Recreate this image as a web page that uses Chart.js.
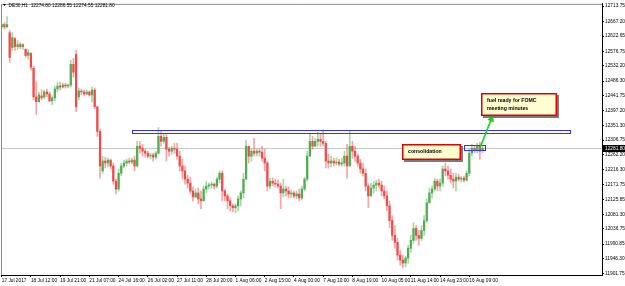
<!DOCTYPE html>
<html lang="en">
<head>
<meta charset="UTF-8">
<title>DE30,H1</title>
<script src="https://cdn.jsdelivr.net/npm/chart.js"></script>
<style>
    html, body { margin: 0; padding: 0; background: #fff; }
    canvas { display: block; }
</style>
</head>
<body>
<canvas id="chart" width="625" height="286"></canvas>
<script>
    // each entry below covers three H1 candles
    const hoursPerBar = 3;

    const opens = [
        12651, 12658, 12651, 12633, 12588, 12615, 12591, 12597, 12591, 12582,
        12564, 12570, 12525, 12438, 12423, 12441, 12438, 12453, 12447, 12426,
        12435, 12462, 12471, 12468, 12474, 12471, 12474, 12537, 12567, 12438,
        12456, 12453, 12447, 12453, 12444, 12459, 12408, 12333, 12213, 12243,
        12237, 12246, 12228, 12182, 12158, 12206, 12228, 12237, 12243, 12240,
        12246, 12228, 12288, 12282, 12273, 12267, 12258, 12261, 12255, 12267,
        12318, 12303, 12315, 12279, 12273, 12282, 12279, 12258, 12228, 12213,
        12188, 12176, 12152, 12134, 12146, 12128, 12122, 12158, 12167, 12170,
        12173, 12167, 12188, 12206, 12152, 12137, 12122, 12107, 12101, 12107,
        12128, 12146, 12188, 12288, 12258, 12273, 12267, 12273, 12270, 12252,
        12237, 12167, 12182, 12176, 12173, 12167, 12146, 12158, 12152, 12143,
        12146, 12137, 12143, 12131, 12158, 12188, 12258, 12303, 12288, 12303,
        12309, 12303, 12297, 12243, 12237, 12243, 12237, 12240, 12234, 12237,
        12258, 12228, 12288, 12273, 12258, 12237, 12219, 12206, 12167, 12137,
        12161, 12170, 12176, 12170, 12152, 12137, 12107, 12062, 12017, 11996,
        11957, 11942, 11933, 11948, 11978, 12002, 12038, 12017, 12008, 12032,
        12062, 12116, 12146, 12158, 12182, 12167, 12176, 12219, 12213, 12200,
        12188, 12182, 12194, 12188, 12191, 12185, 12206, 12267, 12282, 12276,
        12288, 12275
    ];
    const highs = [
        12661, 12664, 12682, 12640, 12633, 12618, 12609, 12603, 12600, 12585,
        12582, 12573, 12531, 12483, 12453, 12459, 12459, 12462, 12453, 12441,
        12471, 12483, 12483, 12480, 12480, 12477, 12549, 12555, 12579, 12465,
        12462, 12459, 12459, 12456, 12468, 12465, 12408, 12339, 12258, 12255,
        12252, 12249, 12237, 12188, 12219, 12237, 12246, 12249, 12252, 12252,
        12258, 12303, 12303, 12294, 12279, 12273, 12267, 12267, 12273, 12345,
        12333, 12327, 12324, 12285, 12288, 12297, 12297, 12273, 12249, 12228,
        12200, 12194, 12164, 12158, 12161, 12152, 12167, 12182, 12176, 12179,
        12176, 12194, 12213, 12213, 12158, 12143, 12131, 12113, 12113, 12137,
        12152, 12206, 12306, 12288, 12279, 12312, 12279, 12279, 12288, 12279,
        12243, 12191, 12191, 12188, 12185, 12176, 12188, 12167, 12164, 12155,
        12152, 12152, 12158, 12167, 12194, 12273, 12327, 12318, 12312, 12330,
        12324, 12339, 12303, 12264, 12258, 12252, 12252, 12249, 12252, 12273,
        12294, 12336, 12303, 12288, 12264, 12249, 12237, 12219, 12173, 12176,
        12182, 12185, 12188, 12182, 12167, 12152, 12122, 12077, 12047, 12008,
        11972, 11957, 11954, 11987, 12017, 12056, 12047, 12032, 12047, 12077,
        12128, 12161, 12167, 12191, 12188, 12188, 12228, 12237, 12228, 12219,
        12206, 12206, 12203, 12197, 12197, 12213, 12279, 12294, 12291, 12297,
        12300, 12290
    ];
    const lows = [
        12648, 12645, 12648, 12543, 12579, 12579, 12582, 12585, 12582, 12558,
        12552, 12519, 12429, 12384, 12423, 12429, 12432, 12438, 12423, 12414,
        12426, 12453, 12459, 12465, 12465, 12465, 12468, 12498, 12393, 12429,
        12444, 12441, 12444, 12441, 12423, 12402, 12318, 12191, 12206, 12222,
        12225, 12219, 12173, 12143, 12152, 12198, 12222, 12228, 12234, 12234,
        12213, 12225, 12267, 12258, 12255, 12252, 12249, 12243, 12249, 12264,
        12288, 12297, 12243, 12258, 12264, 12267, 12249, 12213, 12188, 12173,
        12161, 12143, 12122, 12131, 12113, 12098, 12122, 12146, 12158, 12161,
        12158, 12161, 12176, 12122, 12122, 12098, 12092, 12089, 12086, 12092,
        12107, 12131, 12188, 12237, 12243, 12258, 12258, 12258, 12243, 12213,
        12152, 12158, 12167, 12164, 12161, 12098, 12134, 12137, 12131, 12131,
        12131, 12128, 12122, 12125, 12152, 12182, 12258, 12279, 12288, 12288,
        12288, 12288, 12222, 12222, 12225, 12228, 12231, 12228, 12228, 12228,
        12191, 12228, 12252, 12243, 12228, 12206, 12198, 12152, 12101, 12137,
        12146, 12152, 12161, 12137, 12128, 12092, 12041, 12002, 11978, 11942,
        11927, 11918, 11921, 11933, 11966, 11993, 12002, 11987, 12002, 12017,
        12056, 12116, 12131, 12152, 12152, 12152, 12167, 12198, 12188, 12176,
        12161, 12152, 12182, 12179, 12179, 12182, 12198, 12258, 12267, 12267,
        12249, 12268
    ];
    const closes = [
        12658, 12651, 12658, 12558, 12618, 12591, 12597, 12591, 12597, 12564,
        12573, 12528, 12438, 12423, 12444, 12435, 12453, 12447, 12426, 12435,
        12462, 12471, 12468, 12474, 12471, 12474, 12537, 12513, 12408, 12456,
        12453, 12447, 12453, 12444, 12459, 12408, 12333, 12228, 12243, 12237,
        12246, 12228, 12182, 12158, 12206, 12228, 12237, 12243, 12240, 12246,
        12228, 12288, 12282, 12273, 12267, 12258, 12261, 12255, 12267, 12318,
        12303, 12315, 12279, 12273, 12282, 12279, 12258, 12228, 12213, 12188,
        12176, 12152, 12134, 12146, 12128, 12122, 12158, 12167, 12170, 12173,
        12167, 12188, 12206, 12152, 12137, 12122, 12107, 12101, 12107, 12128,
        12146, 12188, 12288, 12258, 12273, 12267, 12273, 12270, 12252, 12237,
        12167, 12182, 12176, 12173, 12167, 12146, 12158, 12152, 12143, 12146,
        12137, 12143, 12131, 12158, 12188, 12258, 12303, 12288, 12303, 12309,
        12303, 12297, 12243, 12237, 12243, 12237, 12240, 12234, 12237, 12258,
        12228, 12288, 12273, 12258, 12237, 12219, 12206, 12167, 12137, 12161,
        12170, 12176, 12170, 12152, 12137, 12107, 12062, 12017, 11996, 11957,
        11942, 11933, 11948, 11978, 12002, 12038, 12017, 12008, 12032, 12062,
        12116, 12146, 12158, 12182, 12167, 12176, 12219, 12213, 12200, 12188,
        12182, 12194, 12188, 12191, 12185, 12206, 12267, 12282, 12276, 12288,
        12273, 12281.8
    ];

    // time axis: hours since the first candle and their labels
    const timeTicks = [0, 33, 66, 99, 132, 165, 198, 231, 264, 297, 330, 363, 396, 429, 462, 495, 528];
    const timeLabels = [
        '17 Jul 2017', '18 Jul 12:00', '19 Jul 21:00', '21 Jul 07:00', '24 Jul 16:00', '26 Jul 02:00',
        '27 Jul 11:00', '28 Jul 20:00', '1 Aug 06:00', '2 Aug 15:00', '4 Aug 00:00', '7 Aug 10:00',
        '8 Aug 19:00', '10 Aug 05:00', '11 Aug 14:00', '14 Aug 23:00', '16 Aug 09:00'
    ];
    const priceTicks = [
        12713.75, 12667.20, 12622.65, 12576.75, 12532.20, 12486.30, 12441.75, 12397.20, 12351.30, 12306.75,
        12262.20, 12216.30, 12171.75, 12125.85, 12081.30, 12036.75, 11990.85, 11946.30, 11901.75
    ];
    const lastPrice = 12281.80;
    const header = 'DE30,H1  12274.80 12286.55 12274.55 12281.80';

    // drawn objects on the chart (in hours / price)
    const resistance = { from: 147, to: 642, top: 12338, bottom: 12330 };
    const rangeBox = { from: 522, to: 546, top: 12291, bottom: 12276 };
    const arrow = { x1: 540, y1: 12283, x2: 555, y2: 12384 };
    const notes = [
        { lines: ['consolidation'], from: 452, to: 519, top: 12295, bottom: 12245 },
        { lines: ['fuel ready for FOMC', 'meeting minutes'], from: 541, to: 627, top: 12450, bottom: 12380 }
    ];

    const UP = '#4fae4f', DOWN = '#f24a4a';
    const UP_WICK = 'rgba(79,174,79,0.5)', DOWN_WICK = 'rgba(242,74,74,0.5)';
    const small = { family: 'Liberation Sans', size: 4.8 };

    const isUp = closes.map((c, i) => c >= opens[i]);
    const wicks = closes.map((c, i) => ({ x: i * hoursPerBar, y: [lows[i], highs[i]] }));
    const bodies = closes.map((c, i) => ({ x: i * hoursPerBar, y: [opens[i], c] }));

    const overlay = {
        id: 'overlay',
        beforeDatasetsDraw(chart) {
            const { ctx, chartArea: a, scales: { y } } = chart;
            const py = Math.round(y.getPixelForValue(lastPrice)) + 0.5;
            ctx.save();
            ctx.strokeStyle = '#c8c8c8';
            ctx.lineWidth = 1;
            ctx.beginPath();
            ctx.moveTo(a.left, py);
            ctx.lineTo(a.right, py);
            ctx.stroke();
            ctx.restore();
        },
        afterDatasetsDraw(chart) {
            const { ctx, scales: { x, y } } = chart;
            ctx.save();

            // resistance zone + consolidation range
            ctx.strokeStyle = '#3232ff';
            ctx.lineWidth = 1;
            [resistance, rangeBox].forEach(r => {
                const x1 = x.getPixelForValue(r.from), x2 = x.getPixelForValue(r.to);
                const y1 = y.getPixelForValue(r.top), y2 = y.getPixelForValue(r.bottom);
                ctx.strokeRect(Math.round(x1) + 0.5, Math.round(y1) + 0.5, Math.round(x2 - x1), Math.round(y2 - y1));
            });

            // green arrow
            const ax1 = x.getPixelForValue(arrow.x1), ay1 = y.getPixelForValue(arrow.y1);
            const ax2 = x.getPixelForValue(arrow.x2), ay2 = y.getPixelForValue(arrow.y2);
            const ang = Math.atan2(ay2 - ay1, ax2 - ax1);
            ctx.strokeStyle = '#1ed21e';
            ctx.fillStyle = '#1ed21e';
            ctx.lineWidth = 1.6;
            ctx.beginPath();
            ctx.moveTo(ax1, ay1);
            ctx.lineTo(ax2 - 4 * Math.cos(ang), ay2 - 4 * Math.sin(ang));
            ctx.stroke();
            ctx.beginPath();
            ctx.moveTo(ax2, ay2);
            ctx.lineTo(ax2 - 7 * Math.cos(ang) + 3.5 * Math.sin(ang), ay2 - 7 * Math.sin(ang) - 3.5 * Math.cos(ang));
            ctx.lineTo(ax2 - 7 * Math.cos(ang) - 3.5 * Math.sin(ang), ay2 - 7 * Math.sin(ang) + 3.5 * Math.cos(ang));
            ctx.closePath();
            ctx.fill();

            // text notes
            notes.forEach(n => {
                const x1 = Math.round(x.getPixelForValue(n.from)), x2 = Math.round(x.getPixelForValue(n.to));
                const y1 = Math.round(y.getPixelForValue(n.top)), y2 = Math.round(y.getPixelForValue(n.bottom));
                ctx.fillStyle = '#7a7a7a';
                ctx.fillRect(x1 + 2, y1 + 2, x2 - x1, y2 - y1);
                ctx.fillStyle = '#ffffd2';
                ctx.fillRect(x1, y1, x2 - x1, y2 - y1);
                ctx.strokeStyle = '#e00000';
                ctx.lineWidth = 1.5;
                ctx.strokeRect(x1 + 0.75, y1 + 0.75, x2 - x1 - 1.5, y2 - y1 - 1.5);
                ctx.fillStyle = '#000';
                ctx.font = 'bold 5.2px "Liberation Sans"';
                ctx.textBaseline = 'middle';
                ctx.textAlign = 'left';
                const mid = (y1 + y2) / 2, step = 7.5;
                n.lines.forEach((t, i) => {
                    ctx.fillText(t, x1 + 6, mid + (i - (n.lines.length - 1) / 2) * step);
                });
            });
            ctx.restore();
        },
        afterDraw(chart) {
            const { ctx, chartArea: a, scales: { y } } = chart;
            ctx.save();
            // frame
            ctx.strokeStyle = '#8c8c8c';
            ctx.lineWidth = 1;
            ctx.beginPath();
            ctx.moveTo(a.left + 0.5, a.bottom);
            ctx.lineTo(a.left + 0.5, a.top + 0.5);
            ctx.lineTo(a.right, a.top + 0.5);
            ctx.stroke();

            // header
            ctx.fillStyle = '#000';
            ctx.beginPath();
            ctx.moveTo(3, 4);
            ctx.lineTo(6, 4);
            ctx.lineTo(4.5, 6);
            ctx.closePath();
            ctx.fill();
            ctx.font = '4.8px "Liberation Sans"';
            ctx.textBaseline = 'middle';
            ctx.textAlign = 'left';
            ctx.fillText(header, 8.5, 5.2);

            // current price tag
            const py = y.getPixelForValue(lastPrice);
            ctx.fillStyle = '#000';
            ctx.fillRect(a.right, Math.round(py) - 3, 625 - a.right, 7);
            ctx.fillStyle = '#fff';
            ctx.fillText(lastPrice.toFixed(2), a.right + 3, Math.round(py) + 0.5);
            ctx.restore();
        }
    };

    new Chart(document.getElementById('chart'), {
        type: 'bar',
        data: {
            datasets: [{
                data: wicks,
                backgroundColor: isUp.map(u => u ? UP_WICK : DOWN_WICK),
                barThickness: 1,
                grouped: false,
                borderWidth: 0
            }, {
                data: bodies,
                backgroundColor: isUp.map(u => u ? UP : DOWN),
                barThickness: 1.6,
                grouped: false,
                borderWidth: 0,
                minBarLength: 1
            }]
        },
        options: {
            responsive: false,
            animation: false,
            layout: { padding: { left: 1, top: 1, right: 0, bottom: 0 } },
            plugins: { legend: { display: false }, tooltip: { enabled: false } },
            scales: {
                x: {
                    type: 'linear',
                    offset: false,
                    min: -0.8,
                    max: 677.9,
                    afterBuildTicks: s => { s.ticks = timeTicks.map(v => ({ value: v })); },
                    afterFit: s => { s.height = 11; },
                    grid: { offset: false, drawOnChartArea: false, drawTicks: true, tickLength: 2, color: '#000' },
                    border: { display: true, color: '#000' },
                    ticks: {
                        align: 'start', autoSkip: false, maxRotation: 0, padding: 1,
                        color: '#000', font: small,
                        callback: (v, i) => timeLabels[i]
                    }
                },
                y: {
                    position: 'right',
                    min: 11896.7,
                    max: 12720.7,
                    afterBuildTicks: s => { s.ticks = priceTicks.map(v => ({ value: v })); },
                    afterFit: s => { s.width = 23; },
                    grid: { drawOnChartArea: false, drawTicks: true, tickLength: 2, color: '#000' },
                    border: { display: true, color: '#000' },
                    ticks: {
                        padding: 1, color: '#000', font: small,
                        callback: v => v.toFixed(2)
                    }
                }
            }
        },
        plugins: [overlay]
    });
</script>
</body>
</html>
